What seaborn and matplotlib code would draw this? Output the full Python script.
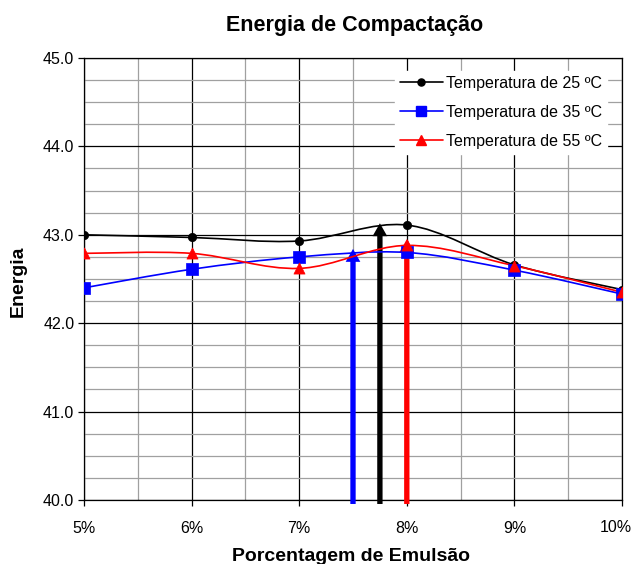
import numpy as np
import pandas as pd
import matplotlib
matplotlib.use("Agg")
import matplotlib.pyplot as plt
from matplotlib.path import Path
from matplotlib.patches import PathPatch
from matplotlib.lines import Line2D
from matplotlib.ticker import MultipleLocator, FuncFormatter
import seaborn as sns

# Emulsion content (%) and compaction energy for each temperature
emulsao = [5, 6, 7, 8, 9, 10]
energia_25 = [43.00, 42.97, 42.93, 43.11, 42.66, 42.38]
energia_35 = [42.40, 42.61, 42.75, 42.80, 42.60, 42.33]
energia_55 = [42.79, 42.79, 42.62, 42.88, 42.65, 42.35]

series_labels = ["Temperatura de 25 ºC", "Temperatura de 35 ºC", "Temperatura de 55 ºC"]
series_colors = ["#000000", "#0000FF", "#FF0000"]
series_markers = ["o", "s", "^"]
series_msize = [6, 9, 8]

# Optimum-content arrows (x position, arrow tip)
seta_x = [7.5, 7.75, 8.0]
seta_topo = [42.84, 43.13, 42.95]
seta_cores = ["#0000FF", "#000000", "#FF0000"]

sns.set_theme(style="white")
plt.rcParams["font.family"] = ["Liberation Sans", "DejaVu Sans"]
plt.rcParams["text.color"] = "black"
plt.rcParams["axes.labelcolor"] = "black"
plt.rcParams["xtick.color"] = "black"
plt.rcParams["ytick.color"] = "black"

fig = plt.figure(figsize=(6.33, 5.64), dpi=100)
ax = fig.add_axes([84 / 633, 1 - 500 / 564, 538 / 633, 442 / 564])


def smooth_path(xs, ys):
    """Bezier path through the points, tangent = neighbour chord / 6."""
    pts = np.column_stack([xs, ys]).astype(float)
    n = len(pts)
    verts = [pts[0]]
    codes = [Path.MOVETO]
    for i in range(n - 1):
        p0 = pts[i - 1] if i > 0 else pts[i]
        p1 = pts[i]
        p2 = pts[i + 1]
        p3 = pts[i + 2] if i + 2 < n else pts[i + 1]
        c1 = p1 + (p2 - p0) / 6.0
        c2 = p2 - (p3 - p1) / 6.0
        verts += [c1, c2, p2]
        codes += [Path.CURVE4] * 3
    return Path(verts, codes)


frames = []
for vals, lab in zip([energia_25, energia_35, energia_55], series_labels):
    frames.append(pd.DataFrame({"emulsao": emulsao, "energia": vals, "serie": lab}))
df = pd.concat(frames, ignore_index=True)

# vertical arrows (filled polygons, drawn under the series)
for x, top, c in zip(seta_x, seta_topo, seta_cores):
    ax.annotate("", xy=(x, top), xytext=(x, 39.955),
                arrowprops=dict(arrowstyle="simple,head_length=0.58,head_width=0.66,tail_width=0.24",
                                facecolor=c, edgecolor="none", lw=0, mutation_scale=16,
                                shrinkA=0, shrinkB=0),
                annotation_clip=False, zorder=3)

handles = []
for lab, c, m, ms in zip(series_labels, series_colors, series_markers, series_msize):
    sub = df[df["serie"] == lab]
    ax.add_patch(PathPatch(smooth_path(sub["emulsao"], sub["energia"]),
                           facecolor="none", edgecolor=c, lw=1.2, zorder=4))
    sns.scatterplot(data=sub, x="emulsao", y="energia", ax=ax, color=c,
                    marker=m, s=ms ** 2, edgecolor=c, linewidth=0.5,
                    zorder=5, legend=False)
    handles.append(Line2D([], [], color=c, lw=1.2, marker=m, markersize=ms * 0.85,
                          markeredgecolor=c))

ax.set_xlim(5, 10)
ax.set_ylim(40, 45)
ax.set_xlabel("")
ax.set_ylabel("")
ax.xaxis.set_major_locator(MultipleLocator(1))
ax.xaxis.set_minor_locator(MultipleLocator(0.5))
ax.yaxis.set_major_locator(MultipleLocator(1))
ax.yaxis.set_minor_locator(MultipleLocator(0.25))
# the right-most label is placed separately so it stays inside the figure
ax.xaxis.set_major_formatter(FuncFormatter(lambda v, p: "" if v >= 10 else f"{v:.0f}%"))
ax.yaxis.set_major_formatter(FuncFormatter(lambda v, p: f"{v:.1f}"))

ax.grid(which="major", color="#000000", lw=0.9, zorder=1)
ax.grid(which="minor", color="#A0A0A0", lw=0.9, zorder=1)
ax.set_axisbelow(True)
for s in ax.spines.values():
    s.set_color("#000000")
    s.set_linewidth(0.9)

ax.tick_params(which="major", direction="out", length=4, width=0.9, color="#000000",
               labelsize=11.5, pad=3, bottom=True, left=True)
ax.tick_params(which="minor", length=0)
ax.tick_params(axis="x", pad=11)

ax.annotate(f"{emulsao[-1]}%", xy=(emulsao[-1], 0), xycoords=("data", "axes fraction"),
            xytext=(-4.5, -19.8), textcoords="offset points",
            ha="center", va="center", fontsize=11.5)

fig.text(18 / 633, 1 - 281 / 564, "Energia", rotation=90, ha="center", va="center",
         fontsize=14, fontweight="bold")
fig.text(351 / 633, 1 - 561 / 564, "Porcentagem de Emulsão", ha="center", va="baseline",
         fontsize=14, fontweight="bold")
fig.text(355 / 633, 1 - 31 / 564, "Energia de Compactação", ha="center", va="baseline",
         fontsize=15.5, fontweight="bold")

leg = ax.legend(handles, series_labels, loc="upper right",
                bbox_to_anchor=((607 - 84) / 538, (500 - 71) / 442),
                frameon=True, fancybox=False, framealpha=1, edgecolor="white",
                fontsize=11.5, handlelength=2.7, handletextpad=0.2,
                labelspacing=0.88, borderpad=0.3, borderaxespad=0)
leg.set_zorder(6)

fig.savefig("out.png", dpi=100, facecolor="white")
